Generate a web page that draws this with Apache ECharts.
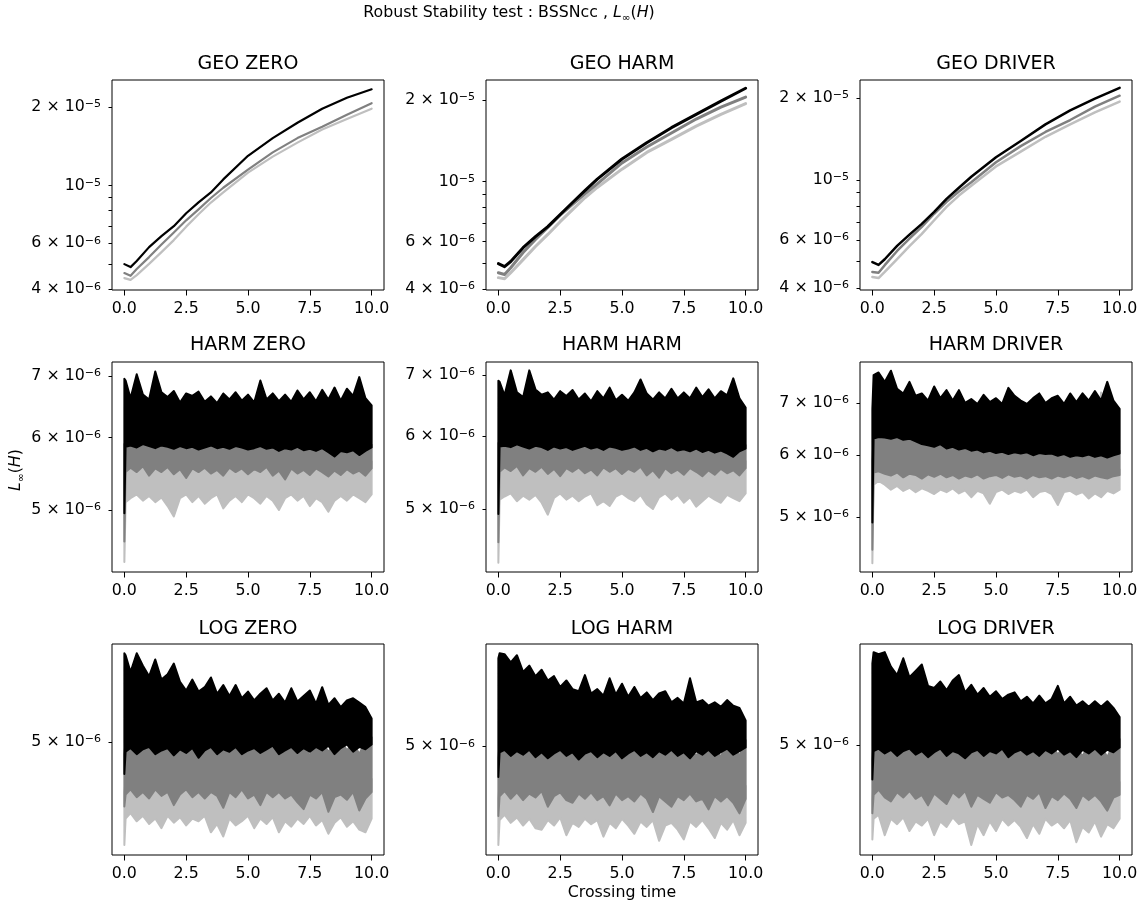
<!DOCTYPE html>
<html><head><meta charset="utf-8">
<script src="https://cdn.jsdelivr.net/npm/echarts@6/dist/echarts.min.js"></script>
<style>html,body{margin:0;padding:0;background:#fff}#c{width:1146px;height:909px}</style>
</head><body><div id="c"></div>
<script>
// All L-infinity values are in units of 1e-6
const UNIT = 1e-6;
const xTicks = [0, 2.5, 5, 7.5, 10];
const topLabels = [4, 6, 10, 20];
const topTicks = [4, 5, 6, 7, 8, 9, 10, 20];
const midLabels = [5, 6, 7];
const lowLabels = [5];

// ---- Row 1 (smooth growth) ----
const tTop = [0, 0.25, 0.5, 1, 1.5, 2, 2.5, 3, 3.5, 4, 5, 6, 7, 8, 9, 10];
const geoZeroBlack = [4.99, 4.86, 5.13, 5.8, 6.39, 6.98, 7.82, 8.61, 9.4, 10.55, 13.0, 15.2, 17.4, 19.7, 21.7, 23.4];
const geoZeroGray  = [4.61, 4.5, 4.78, 5.31, 5.93, 6.6, 7.35, 8.1, 8.95, 9.8, 11.5, 13.4, 15.2, 16.8, 18.7, 20.7];
const geoZeroLight = [4.41, 4.34, 4.53, 5.0, 5.55, 6.17, 6.95, 7.75, 8.6, 9.4, 11.2, 12.9, 14.6, 16.4, 18.0, 19.7];
const geoHarmBlack = [4.97, 4.84, 5.06, 5.69, 6.25, 6.81, 7.55, 8.36, 9.25, 10.2, 12.1, 13.9, 15.8, 17.7, 19.8, 22.1];
const geoHarmGray  = [4.6, 4.53, 4.8, 5.46, 6.1, 6.76, 7.5, 8.22, 9.0, 9.8, 11.7, 13.4, 15.1, 17.0, 18.8, 20.5];
const geoHarmLight = [4.41, 4.37, 4.6, 5.14, 5.75, 6.37, 7.1, 7.87, 8.7, 9.5, 11.1, 12.8, 14.3, 16.0, 17.7, 19.4];
const geoDrvBlack  = [4.98, 4.86, 5.1, 5.71, 6.28, 6.88, 7.62, 8.51, 9.35, 10.26, 12.1, 13.9, 16.0, 18.0, 19.9, 21.8];
const geoDrvGray   = [4.58, 4.55, 4.85, 5.47, 6.08, 6.71, 7.5, 8.3, 9.05, 9.8, 11.6, 13.3, 15.0, 16.6, 18.6, 20.4];
const geoDrvLight  = [4.39, 4.35, 4.58, 5.11, 5.7, 6.32, 7.1, 7.95, 8.75, 9.5, 11.2, 12.7, 14.4, 16.0, 17.7, 19.4];

// ---- Rows 2-3 (noisy bands: upper and lower envelopes) ----
const tNoisy = [0, 0.05, 0.25, 0.5, 0.75, 1, 1.25, 1.5, 1.75, 2, 2.25, 2.5, 2.75, 3, 3.25, 3.5, 3.75, 4, 4.25, 4.5, 4.75, 5, 5.25, 5.5, 5.75, 6, 6.25, 6.5, 6.75, 7, 7.25, 7.5, 7.75, 8, 8.25, 8.5, 8.75, 9, 9.25, 9.5, 9.75, 10];

// HARM ZERO
const hzBlackHi = [6.95, 6.92, 6.62, 7.03, 6.68, 6.6, 7.08, 6.72, 6.64, 6.74, 6.55, 6.7, 6.66, 6.73, 6.56, 6.65, 6.54, 6.7, 6.6, 6.72, 6.58, 6.68, 6.55, 6.92, 6.6, 6.7, 6.57, 6.68, 6.56, 6.75, 6.6, 6.72, 6.57, 6.76, 6.6, 6.8, 6.58, 6.78, 6.66, 6.98, 6.62, 6.5];
const hzBlackLo = [4.96, 5.86, 5.88, 5.85, 5.9, 5.87, 5.84, 5.88, 5.86, 5.83, 5.87, 5.84, 5.86, 5.82, 5.85, 5.88, 5.84, 5.86, 5.83, 5.87, 5.85, 5.82, 5.84, 5.87, 5.83, 5.85, 5.8, 5.84, 5.82, 5.86, 5.81, 5.83, 5.8, 5.84, 5.78, 5.72, 5.8, 5.78, 5.81, 5.74, 5.8, 5.85];
const hzGrayHi  = [5.9, 5.9, 5.93, 5.91, 5.94, 5.92, 5.9, 5.93, 5.91, 5.89, 5.92, 5.9, 5.91, 5.88, 5.91, 5.93, 5.89, 5.91, 5.88, 5.92, 5.9, 5.87, 5.89, 5.91, 5.88, 5.9, 5.86, 5.89, 5.87, 5.91, 5.86, 5.88, 5.86, 5.89, 5.84, 5.82, 5.86, 5.84, 5.87, 5.82, 5.86, 5.89];
const hzGrayLo  = [4.62, 5.5, 5.56, 5.5, 5.58, 5.45, 5.55, 5.5, 5.57, 5.47, 5.54, 5.42, 5.55, 5.5, 5.56, 5.48, 5.53, 5.45, 5.56, 5.5, 5.55, 5.47, 5.54, 5.5, 5.57, 5.45, 5.52, 5.4, 5.55, 5.48, 5.53, 5.46, 5.55, 5.5, 5.44, 5.52, 5.46, 5.54, 5.48, 5.52, 5.45, 5.55];
const hzLightHi = [5.5, 5.62, 5.66, 5.63, 5.67, 5.6, 5.65, 5.62, 5.66, 5.6, 5.64, 5.58, 5.65, 5.62, 5.66, 5.6, 5.64, 5.58, 5.66, 5.62, 5.65, 5.6, 5.64, 5.62, 5.67, 5.58, 5.63, 5.56, 5.65, 5.6, 5.64, 5.58, 5.65, 5.62, 5.57, 5.63, 5.58, 5.64, 5.6, 5.63, 5.58, 5.65];
const hzLightLo = [4.39, 5.1, 5.15, 5.2, 5.12, 5.18, 5.1, 5.16, 5.05, 4.92, 5.15, 5.2, 5.1, 5.18, 5.08, 5.15, 5.2, 5.02, 5.12, 5.18, 5.1, 5.2, 5.15, 5.08, 5.18, 5.12, 5.0, 5.15, 5.2, 5.12, 5.18, 5.05, 5.15, 5.1, 4.98, 5.12, 5.18, 5.12, 5.2, 5.15, 5.1, 5.2];

// HARM HARM
const hhBlackHi = [6.9, 6.88, 6.65, 7.08, 6.7, 6.62, 7.08, 6.75, 6.66, 6.7, 6.58, 6.72, 6.64, 6.74, 6.58, 6.68, 6.55, 6.72, 6.6, 6.78, 6.57, 6.66, 6.56, 6.7, 6.92, 6.68, 6.58, 6.7, 6.6, 6.76, 6.6, 6.7, 6.6, 6.78, 6.62, 6.75, 6.6, 6.72, 6.65, 6.94, 6.6, 6.45];
const hhBlackLo = [4.94, 5.85, 5.86, 5.84, 5.88, 5.85, 5.82, 5.86, 5.84, 5.8, 5.85, 5.82, 5.84, 5.8, 5.83, 5.86, 5.82, 5.84, 5.8, 5.85, 5.83, 5.8, 5.82, 5.85, 5.8, 5.83, 5.78, 5.82, 5.8, 5.84, 5.79, 5.81, 5.78, 5.82, 5.77, 5.8, 5.76, 5.79, 5.75, 5.7, 5.78, 5.82];
const hhGrayHi  = [5.9, 5.89, 5.91, 5.89, 5.93, 5.9, 5.88, 5.91, 5.89, 5.86, 5.9, 5.88, 5.89, 5.86, 5.88, 5.91, 5.87, 5.89, 5.86, 5.9, 5.88, 5.86, 5.87, 5.9, 5.86, 5.88, 5.84, 5.87, 5.86, 5.89, 5.84, 5.86, 5.84, 5.87, 5.83, 5.85, 5.82, 5.84, 5.81, 5.77, 5.83, 5.87];
const hhGrayLo  = [4.6, 5.49, 5.55, 5.5, 5.57, 5.44, 5.54, 5.49, 5.56, 5.46, 5.53, 5.43, 5.54, 5.49, 5.55, 5.47, 5.52, 5.44, 5.55, 5.49, 5.54, 5.46, 5.53, 5.49, 5.56, 5.44, 5.51, 5.41, 5.54, 5.47, 5.52, 5.45, 5.54, 5.49, 5.43, 5.51, 5.45, 5.53, 5.47, 5.51, 5.44, 5.54];
const hhLightHi = [5.5, 5.61, 5.65, 5.62, 5.66, 5.59, 5.64, 5.61, 5.65, 5.59, 5.63, 5.57, 5.64, 5.61, 5.65, 5.59, 5.63, 5.57, 5.65, 5.61, 5.64, 5.59, 5.63, 5.61, 5.66, 5.57, 5.62, 5.55, 5.64, 5.59, 5.63, 5.57, 5.64, 5.61, 5.56, 5.62, 5.57, 5.63, 5.59, 5.62, 5.57, 5.64];
const hhLightLo = [4.37, 5.12, 5.16, 5.2, 5.1, 5.17, 5.12, 5.18, 5.08, 4.93, 5.14, 5.2, 5.12, 5.17, 5.1, 5.16, 5.2, 5.05, 5.1, 5.04, 5.16, 5.2, 5.14, 5.1, 5.18, 5.06, 5.0, 5.15, 5.2, 5.12, 5.18, 5.08, 5.15, 5.03, 5.1, 5.17, 5.12, 5.08, 5.18, 5.14, 5.1, 5.2];

// HARM DRIVER
const hdBlackHi = [6.88, 7.6, 7.66, 7.45, 7.7, 7.3, 7.2, 7.45, 7.15, 7.2, 7.05, 7.35, 7.1, 7.27, 7.05, 7.27, 7.0, 7.08, 6.98, 7.17, 7.02, 7.1, 6.98, 7.32, 7.15, 7.05, 6.98, 7.1, 7.2, 7.0, 7.1, 7.15, 6.98, 7.2, 7.02, 7.2, 7.05, 7.25, 7.05, 7.45, 7.05, 6.88];
const hdBlackLo = [4.92, 6.3, 6.33, 6.32, 6.3, 6.33, 6.28, 6.3, 6.25, 6.2, 6.18, 6.15, 6.2, 6.12, 6.15, 6.1, 6.13, 6.08, 6.1, 6.05, 6.08, 6.04, 6.06, 6.02, 6.05, 6.03, 6.05, 6.0, 6.04, 6.02, 6.03, 5.99, 6.02, 5.97, 6.0, 5.98, 6.01, 5.97, 6.0, 5.96, 6.0, 6.03];
const hdGrayHi  = [5.9, 6.35, 6.38, 6.37, 6.35, 6.38, 6.33, 6.35, 6.3, 6.26, 6.23, 6.2, 6.25, 6.17, 6.2, 6.15, 6.18, 6.13, 6.15, 6.1, 6.13, 6.09, 6.11, 6.07, 6.1, 6.08, 6.1, 6.05, 6.09, 6.07, 6.08, 6.04, 6.07, 6.02, 6.05, 6.03, 6.06, 6.02, 6.05, 6.01, 6.05, 6.08];
const hdGrayLo  = [4.54, 5.7, 5.72, 5.68, 5.65, 5.7, 5.62, 5.68, 5.66, 5.6, 5.67, 5.63, 5.68, 5.62, 5.66, 5.6, 5.65, 5.62, 5.67, 5.6, 5.64, 5.66, 5.61, 5.67, 5.63, 5.65, 5.6, 5.66, 5.62, 5.64, 5.6, 5.65, 5.62, 5.66, 5.61, 5.64, 5.6, 5.65, 5.62, 5.6, 5.64, 5.66];
const hdLightHi = [5.6, 5.78, 5.8, 5.76, 5.74, 5.78, 5.72, 5.76, 5.75, 5.7, 5.76, 5.72, 5.77, 5.71, 5.75, 5.7, 5.74, 5.72, 5.76, 5.7, 5.73, 5.75, 5.7, 5.76, 5.72, 5.74, 5.7, 5.75, 5.71, 5.73, 5.7, 5.74, 5.71, 5.75, 5.7, 5.73, 5.7, 5.74, 7.22, 5.7, 5.73, 5.75];
const hdLightLo = [4.36, 5.5, 5.56, 5.5, 5.42, 5.48, 5.4, 5.45, 5.38, 5.44, 5.4, 5.35, 5.42, 5.38, 5.44, 5.36, 5.41, 5.3, 5.4, 5.36, 5.2, 5.38, 5.42, 5.35, 5.4, 5.37, 5.42, 5.3, 5.38, 5.4, 5.35, 5.18, 5.38, 5.4, 5.34, 5.38, 5.28, 5.36, 5.3, 5.4, 5.36, 5.42];

// LOG ZERO
const lzBlackHi = [5.8, 5.78, 5.62, 5.8, 5.68, 5.58, 5.74, 5.55, 5.6, 5.7, 5.53, 5.45, 5.55, 5.44, 5.48, 5.57, 5.42, 5.5, 5.4, 5.5, 5.38, 5.44, 5.36, 5.42, 5.47, 5.36, 5.42, 5.34, 5.47, 5.35, 5.4, 5.45, 5.33, 5.48, 5.32, 5.38, 5.3, 5.36, 5.38, 5.34, 5.3, 5.2];
const lzBlackLo = [4.74, 4.92, 4.95, 4.9, 4.94, 4.96, 4.9, 4.93, 4.95, 4.89, 4.94, 4.91, 4.95, 4.87, 4.93, 4.96, 4.9, 4.94, 4.92, 4.96, 4.9, 4.93, 4.95, 4.91, 4.94, 4.97, 4.9, 4.93, 4.96, 4.91, 4.95, 4.92, 4.96, 4.93, 4.97, 4.9, 4.95, 4.98, 4.92, 4.96, 4.94, 4.98];
const lzGrayHi  = [4.9, 5.0, 5.02, 4.98, 5.01, 5.03, 4.98, 5.0, 5.02, 4.97, 5.01, 4.99, 5.02, 4.96, 5.0, 5.03, 4.98, 5.01, 4.99, 5.03, 4.98, 5.0, 5.02, 4.99, 5.01, 5.04, 4.98, 4.9, 5.03, 4.99, 5.02, 4.88, 5.03, 5.0, 4.92, 4.98, 5.02, 4.93, 5.0, 4.9, 5.01, 5.04];
const lzGrayLo  = [4.49, 4.58, 4.62, 4.56, 4.6, 4.55, 4.62, 4.57, 4.6, 4.5, 4.58, 4.62, 4.56, 4.6, 4.55, 4.6, 4.57, 4.48, 4.6, 4.56, 4.62, 4.55, 4.58, 4.5, 4.6, 4.56, 4.6, 4.55, 4.58, 4.52, 4.47, 4.58, 4.55, 4.6, 4.45, 4.56, 4.58, 4.54, 4.6, 4.46, 4.55, 4.6];
const lzLightHi = [4.6, 4.68, 4.72, 4.66, 4.7, 4.65, 4.72, 4.67, 4.7, 4.62, 4.68, 4.72, 4.66, 4.7, 4.65, 4.7, 4.67, 4.6, 4.7, 4.66, 4.72, 4.65, 4.68, 4.62, 4.7, 4.66, 4.7, 4.65, 4.68, 4.63, 4.6, 4.68, 4.65, 4.7, 4.58, 4.66, 4.68, 4.64, 4.7, 4.58, 4.65, 4.7];
const lzLightLo = [4.21, 4.4, 4.44, 4.38, 4.42, 4.36, 4.4, 4.33, 4.42, 4.37, 4.41, 4.35, 4.4, 4.38, 4.42, 4.3, 4.36, 4.27, 4.4, 4.35, 4.38, 4.42, 4.33, 4.4, 4.36, 4.41, 4.3, 4.38, 4.34, 4.4, 4.36, 4.42, 4.35, 4.39, 4.29, 4.37, 4.41, 4.34, 4.38, 4.32, 4.3, 4.4];

// LOG HARM
const lhBlackHi = [5.79, 5.84, 5.83, 5.75, 5.82, 5.66, 5.72, 5.62, 5.68, 5.58, 5.62, 5.52, 5.58, 5.5, 5.48, 5.63, 5.46, 5.5, 5.44, 5.6, 5.45, 5.55, 5.43, 5.52, 5.42, 5.47, 5.4, 5.46, 5.48, 5.38, 5.42, 5.37, 5.6, 5.38, 5.4, 5.35, 5.38, 5.34, 5.4, 5.35, 5.33, 5.22];
const lhBlackLo = [4.75, 4.95, 4.97, 4.92, 4.96, 4.93, 4.97, 4.91, 4.95, 4.9, 4.94, 4.97, 4.92, 4.95, 4.89, 4.94, 4.96, 4.91, 4.95, 4.92, 4.96, 4.9, 4.94, 4.97, 4.92, 4.95, 4.91, 4.96, 4.93, 4.97, 4.92, 4.95, 4.9, 4.96, 4.93, 4.97, 4.92, 4.95, 4.98, 4.93, 4.96, 4.99];
const lhGrayHi  = [4.9, 5.02, 5.04, 4.99, 5.03, 5.0, 5.04, 4.98, 5.02, 4.97, 5.01, 5.04, 4.99, 5.02, 4.96, 5.01, 5.03, 4.98, 5.02, 4.99, 5.03, 4.97, 5.01, 5.04, 4.99, 5.02, 4.98, 5.03, 4.9, 5.04, 4.99, 5.02, 4.97, 4.92, 5.0, 5.04, 4.99, 4.91, 5.05, 5.0, 4.92, 5.05];
const lhGrayLo  = [4.45, 4.6, 4.64, 4.58, 4.63, 4.57, 4.62, 4.59, 4.64, 4.52, 4.6, 4.63, 4.57, 4.55, 4.62, 4.58, 4.63, 4.57, 4.6, 4.53, 4.62, 4.57, 4.6, 4.56, 4.62, 4.58, 4.48, 4.6, 4.56, 4.52, 4.6, 4.57, 4.62, 4.56, 4.58, 4.5, 4.6, 4.56, 4.6, 4.55, 4.47, 4.58];
const lhLightHi = [4.58, 4.7, 4.74, 4.68, 4.73, 4.67, 4.72, 4.69, 4.74, 4.62, 4.7, 4.73, 4.67, 4.65, 4.72, 4.68, 4.73, 4.67, 4.7, 4.63, 4.72, 4.67, 4.7, 4.66, 4.72, 4.68, 4.58, 4.7, 4.66, 4.62, 4.7, 4.67, 4.72, 4.66, 4.68, 4.6, 4.7, 4.66, 4.7, 4.65, 4.57, 4.68];
const lhLightLo = [4.24, 4.42, 4.46, 4.4, 4.44, 4.38, 4.43, 4.36, 4.35, 4.42, 4.38, 4.44, 4.31, 4.4, 4.37, 4.43, 4.39, 4.42, 4.3, 4.4, 4.36, 4.43, 4.38, 4.32, 4.41, 4.37, 4.42, 4.27, 4.38, 4.4, 4.35, 4.28, 4.41, 4.37, 4.42, 4.36, 4.29, 4.4, 4.35, 4.42, 4.31, 4.4];

// LOG DRIVER
const ldBlackHi = [5.73, 5.84, 5.82, 5.84, 5.7, 5.62, 5.78, 5.6, 5.66, 5.72, 5.52, 5.5, 5.56, 5.48, 5.57, 5.62, 5.46, 5.53, 5.44, 5.5, 5.42, 5.47, 5.4, 5.44, 5.46, 5.38, 5.42, 5.36, 5.43, 5.36, 5.4, 5.52, 5.36, 5.42, 5.34, 5.38, 5.33, 5.38, 5.33, 5.38, 5.32, 5.24];
const ldBlackLo = [4.72, 4.95, 4.97, 4.93, 4.96, 4.91, 4.95, 4.97, 4.92, 4.95, 4.9, 4.94, 4.97, 4.91, 4.95, 4.93, 4.89, 4.94, 4.96, 4.91, 4.95, 4.93, 4.97, 4.9, 4.94, 4.96, 4.92, 4.95, 4.91, 4.96, 4.93, 4.97, 4.92, 4.95, 4.9, 4.96, 4.93, 4.97, 4.92, 4.96, 4.94, 4.98];
const ldGrayHi  = [4.88, 5.02, 5.04, 5.0, 5.03, 4.98, 5.02, 5.04, 4.99, 5.02, 4.97, 5.01, 5.04, 4.98, 5.02, 5.0, 4.96, 5.01, 5.03, 4.98, 5.02, 5.0, 5.04, 4.97, 5.01, 5.03, 4.99, 5.02, 4.98, 5.03, 5.0, 4.92, 4.99, 5.02, 4.97, 4.91, 5.0, 5.04, 4.99, 4.9, 5.01, 5.05];
const ldGrayLo  = [4.46, 4.6, 4.64, 4.58, 4.55, 4.62, 4.58, 4.63, 4.57, 4.6, 4.52, 4.61, 4.57, 4.53, 4.62, 4.58, 4.63, 4.51, 4.6, 4.57, 4.54, 4.62, 4.58, 4.6, 4.56, 4.51, 4.6, 4.57, 4.62, 4.5, 4.59, 4.56, 4.61, 4.57, 4.5, 4.6, 4.56, 4.6, 4.55, 4.48, 4.58, 4.6];
const ldLightHi = [4.56, 4.7, 4.74, 4.68, 4.65, 4.72, 4.68, 4.73, 4.67, 4.7, 4.62, 4.71, 4.67, 4.63, 4.72, 4.68, 4.73, 4.61, 4.7, 4.67, 4.64, 4.72, 4.68, 4.7, 4.66, 4.61, 4.7, 4.67, 4.72, 4.6, 4.69, 4.66, 4.71, 4.67, 4.6, 4.7, 4.66, 4.7, 4.65, 4.58, 4.68, 4.7];
const ldLightLo = [4.27, 4.42, 4.45, 4.3, 4.42, 4.38, 4.43, 4.33, 4.4, 4.37, 4.42, 4.3, 4.4, 4.36, 4.43, 4.38, 4.4, 4.23, 4.38, 4.3, 4.4, 4.33, 4.42, 4.37, 4.41, 4.36, 4.28, 4.38, 4.31, 4.42, 4.37, 4.4, 4.35, 4.41, 4.25, 4.36, 4.32, 4.4, 4.29, 4.38, 4.35, 4.42];

const BLACK = '#000000', GRAY = '#808080', LIGHT = '#bfbfbf';
const FONT = 'DejaVu Sans';
const FS = 15.8;   // tick / axis label size
const TFS = 19;    // subplot title size

const panels = [
  {title: 'GEO ZERO',    ymin: 3.97, ymax: 25.4, labels: topLabels, ticks: topTicks,
   lines: [[geoZeroLight, LIGHT, 2.2], [geoZeroGray, GRAY, 2.2], [geoZeroBlack, BLACK, 2.2]]},
  {title: 'GEO HARM',    ymin: 3.97, ymax: 23.7, labels: topLabels, ticks: topTicks,
   lines: [[geoHarmLight, LIGHT, 3], [geoHarmGray, GRAY, 3], [geoHarmBlack, BLACK, 3]]},
  {title: 'GEO DRIVER',  ymin: 3.93, ymax: 23.3, labels: topLabels, ticks: topTicks,
   lines: [[geoDrvLight, LIGHT, 2.5], [geoDrvGray, GRAY, 2.5], [geoDrvBlack, BLACK, 2.5]]},
  {title: 'HARM ZERO',   ymin: 4.28, ymax: 7.25, labels: midLabels, ticks: midLabels,
   bands: [[hzLightLo, hzLightHi, LIGHT], [hzGrayLo, hzGrayHi, GRAY], [hzBlackLo, hzBlackHi, BLACK]]},
  {title: 'HARM HARM',   ymin: 4.27, ymax: 7.23, labels: midLabels, ticks: midLabels,
   bands: [[hhLightLo, hhLightHi, LIGHT], [hhGrayLo, hhGrayHi, GRAY], [hhBlackLo, hhBlackHi, BLACK]]},
  {title: 'HARM DRIVER', ymin: 4.25, ymax: 7.9, labels: midLabels, ticks: midLabels,
   bands: [[hdLightLo, hdLightHi, LIGHT], [hdGrayLo, hdGrayHi, GRAY], [hdBlackLo, hdBlackHi, BLACK]]},
  {title: 'LOG ZERO',    ymin: 4.14, ymax: 5.89, labels: lowLabels, ticks: lowLabels,
   bands: [[lzLightLo, lzLightHi, LIGHT], [lzGrayLo, lzGrayHi, GRAY], [lzBlackLo, lzBlackHi, BLACK]]},
  {title: 'LOG HARM',    ymin: 4.17, ymax: 5.93, labels: lowLabels, ticks: lowLabels,
   bands: [[lhLightLo, lhLightHi, LIGHT], [lhGrayLo, lhGrayHi, GRAY], [lhBlackLo, lhBlackHi, BLACK]]},
  {title: 'LOG DRIVER',  ymin: 4.16, ymax: 5.92, labels: lowLabels, ticks: lowLabels,
   bands: [[ldLightLo, ldLightHi, LIGHT], [ldGrayLo, ldGrayHi, GRAY], [ldBlackLo, ldBlackHi, BLACK]]}
];

// layout
const colLeft = [112, 486, 860];
const rowTop = [80, 362, 644];
const rowH = [210, 210, 211];
const W = 272;
const titleY = [64, 345.5, 629];

function sciLabel(v) {
  const real = v * UNIT;
  const e = Math.floor(Math.log10(real) + 1e-9);
  const m = Math.round(real / Math.pow(10, e));
  const exp = '\u2212' + Math.abs(e);
  return m === 1 ? '{b|10}{s|' + exp + '}' : '{b|' + m + ' \u00d7 10}{s|' + exp + '}';
}
const labelRich = {
  b: {fontSize: FS, fontFamily: FONT, color: '#000', lineHeight: 16, verticalAlign: 'bottom'},
  s: {fontSize: 11, fontFamily: FONT, color: '#000', lineHeight: 11, padding: [0, 0, 10, 0], verticalAlign: 'top'}
};

function bandSeries(i, lo, hi, color) {
  const data = tNoisy.map((t, k) => [t, lo[k], hi[k]]);
  return {
    type: 'custom', coordinateSystem: 'cartesian2d', xAxisIndex: i, yAxisIndex: i,
    data: data, encode: {x: 0, y: [1, 2]}, clip: true, silent: true, animation: false, z: 2,
    renderItem: function (params, api) {
      if (params.dataIndex !== 0) return null;
      const top = data.map(d => api.coord([d[0], d[2]]));
      const bot = data.map(d => api.coord([d[0], d[1]])).reverse();
      return {type: 'polygon', shape: {points: top.concat(bot)},
        style: {fill: color, stroke: color, lineWidth: 2, lineJoin: 'round'}};
    }
  };
}

const grids = [], xAxes = [], yAxes = [], series = [], graphics = [];
panels.forEach((p, i) => {
  const r = Math.floor(i / 3), c = i % 3;
  grids.push({left: colLeft[c], top: rowTop[r], width: W, height: rowH[r], show: true,
    borderColor: '#000', borderWidth: 1, backgroundColor: 'rgba(0,0,0,0)', containLabel: false});
  xAxes.push({gridIndex: i, type: 'value', min: -0.5, max: 10.5,
    axisLine: {show: false, onZero: false}, splitLine: {show: false},
    axisTick: {show: true, length: 5.5, customValues: xTicks, lineStyle: {color: '#000', width: 1}},
    axisLabel: {customValues: xTicks, formatter: v => Number(v).toFixed(1), color: '#000',
      fontSize: FS, fontFamily: FONT, margin: 11}});
  yAxes.push({gridIndex: i, type: 'log', position: 'left', min: p.ymin, max: p.ymax,
    axisLine: {show: false, onZero: false}, splitLine: {show: false},
    axisTick: {show: true, length: 3.5, customValues: p.ticks, lineStyle: {color: '#000', width: 1}},
    axisLabel: {customValues: p.labels, formatter: sciLabel, rich: labelRich, margin: 11}});
  if (p.lines) {
    p.lines.forEach(([ys, color, w]) => {
      series.push({type: 'line', xAxisIndex: i, yAxisIndex: i, symbol: 'none', showSymbol: false,
        animation: false, silent: true, z: 2, data: tTop.map((t, k) => [t, ys[k]]),
        lineStyle: {color: color, width: w, join: 'round', cap: 'round'}, itemStyle: {color: color}});
    });
  } else {
    p.bands.forEach(([lo, hi, color]) => series.push(bandSeries(i, lo, hi, color)));
  }
  graphics.push({type: 'text', x: colLeft[c] + W / 2, y: titleY[r], silent: true,
    style: {text: p.title, fontSize: TFS, fontFamily: FONT, fill: '#000',
      textAlign: 'center', textVerticalAlign: 'middle', align: 'center', verticalAlign: 'middle'}});
});

// suptitle
graphics.push({type: 'text', x: 509, y: 14, silent: true,
  style: {text: '{n|Robust Stability test : BSSNcc , }{i|L}{s|\u221e}{n|(}{i|H}{n|)}',
    textAlign: 'center', textVerticalAlign: 'middle', align: 'center', verticalAlign: 'middle',
    rich: {
      n: {fontSize: FS, fontFamily: FONT, fill: '#000', color: '#000', lineHeight: 19, verticalAlign: 'top'},
      i: {fontSize: FS, fontFamily: FONT, fontStyle: 'italic', fill: '#000', color: '#000', lineHeight: 19, verticalAlign: 'top'},
      s: {fontSize: 10.5, fontFamily: FONT, fill: '#000', color: '#000', lineHeight: 11, padding: [8, 0, 0, 0], verticalAlign: 'top'}
    }}});
// y label
graphics.push({type: 'text', x: 17, y: 470, rotation: Math.PI / 2, silent: true,
  style: {text: '{i|L}{s|\u221e}{n|(}{i|H}{n|)}',
    textAlign: 'center', textVerticalAlign: 'middle', align: 'center', verticalAlign: 'middle',
    rich: {
      n: {fontSize: FS, fontFamily: FONT, fill: '#000', color: '#000', lineHeight: 19, verticalAlign: 'top'},
      i: {fontSize: FS, fontFamily: FONT, fontStyle: 'italic', fill: '#000', color: '#000', lineHeight: 19, verticalAlign: 'top'},
      s: {fontSize: 10.5, fontFamily: FONT, fill: '#000', color: '#000', lineHeight: 11, padding: [8, 0, 0, 0], verticalAlign: 'top'}
    }}});
// x label
graphics.push({type: 'text', x: 622, y: 893, silent: true,
  style: {text: 'Crossing time', fontSize: FS, fontFamily: FONT, fill: '#000',
    textAlign: 'center', textVerticalAlign: 'middle', align: 'center', verticalAlign: 'middle'}});

const chart = echarts.init(document.getElementById('c'), null, {renderer: 'canvas'});
chart.setOption({
  animation: false,
  backgroundColor: '#fff',
  grid: grids, xAxis: xAxes, yAxis: yAxes, series: series, graphic: graphics
});
</script></body></html>
